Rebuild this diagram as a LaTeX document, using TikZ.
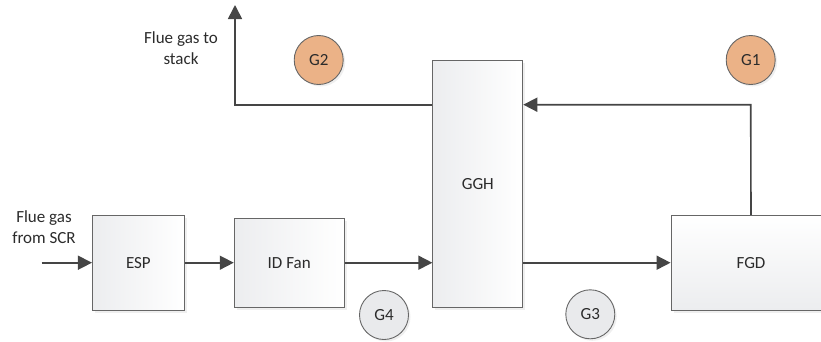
\documentclass[tikz,border=0pt]{standalone}
\usepackage{fontspec}
\setmainfont{Carlito}
\usepackage{tikz}
\usetikzlibrary{arrows.meta,shadows}
\definecolor{flowgray}{HTML}{454545}
\definecolor{boxgray}{HTML}{666666}
\definecolor{boxfill}{HTML}{ECEDEF}
\definecolor{hotfill}{HTML}{EBB287}
\definecolor{coldfill}{HTML}{E9EAEC}
\definecolor{txtgray}{HTML}{2B2B2B}

\begin{document}
\begin{tikzpicture}[x=1pt,y=-1pt,
	unit/.style={draw=boxgray, line width=0.9pt, left color=boxfill, right color=white, text=txtgray,
		drop shadow={shadow xshift=2.5pt, shadow yshift=-2.5pt, fill=black!12}, inner sep=0pt,
		font=\fontsize{17}{21}\selectfont},
	probe/.style={circle, draw=boxgray, line width=0.9pt, minimum size=49pt, inner sep=0pt, text=txtgray,
		drop shadow={shadow xshift=2pt, shadow yshift=-2pt, fill=black!12},
		font=\fontsize{17}{21}\selectfont},
	label/.style={align=center, text=txtgray, font=\fontsize{17}{21}\selectfont},
	flow/.style={draw=flowgray, line width=1.6pt, -{Triangle[length=14pt,width=14pt]}}]
	
	\clip (0,0) rectangle (821,341);
	
	\node[unit, minimum width=92pt, minimum height=95pt] (esp) at (138.4,262.7) {ESP};
	\node[unit, minimum width=110pt, minimum height=89pt] (idfan) at (289.2,262.7) {ID Fan};
	\node[unit, minimum width=90pt, minimum height=247pt] (ggh) at (477.8,183.7) {GGH};
	\node[unit, top color=white, bottom color=boxfill, minimum width=160pt, minimum height=95pt] (fgd) at (751,262.7) {FGD};
	
	\node[probe, fill=hotfill] (g1) at (750.7,60) {G1};
	\node[probe, fill=hotfill] (g2) at (318.7,60) {G2};
	\node[probe, fill=coldfill] (g3) at (590.3,314.3) {G3};
	\node[probe, fill=coldfill] (g4) at (384,315) {G4};
	
	\node[label] (scr) at (44,227) {Flue gas\\from SCR};
	\node[label] (stack) at (181,48) {Flue gas to\\stack};
	
	\coordinate (in) at (41.7,262.7);
	\coordinate (bend) at (235,104.7);
	\coordinate (out) at (235,5);
	\coordinate (ret) at (750.7,104.7);
	
	\draw[flow] (in) -- (esp);
	\draw[flow] (esp) -- (idfan);
	\draw[flow] (idfan) -- (idfan -| ggh.west);
	\draw[flow] (ggh.east |- fgd) -- (fgd);
	\draw[flow] (fgd.north) -- (ret) -- (ret -| ggh.east);
	\draw[flow] (bend -| ggh.west) -- (bend) -- (out);
	
\end{tikzpicture}
\end{document}
